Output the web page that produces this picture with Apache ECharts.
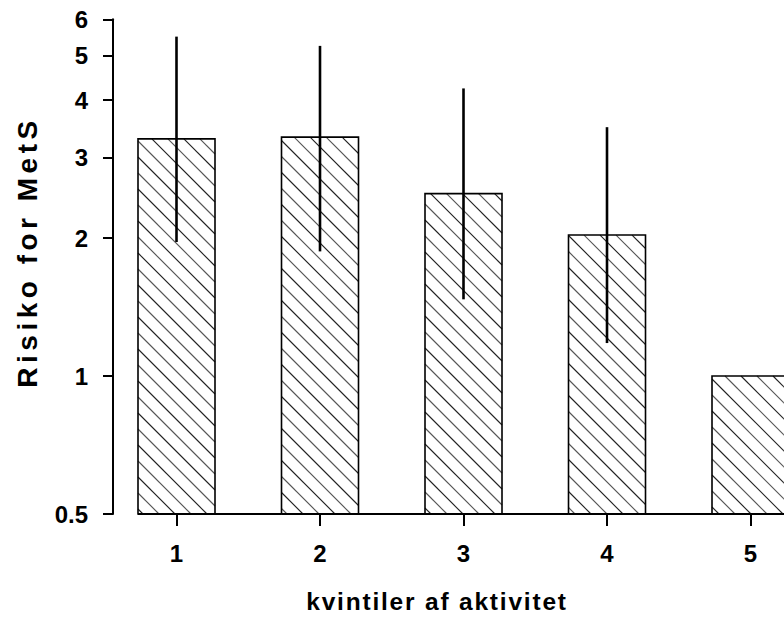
<!DOCTYPE html>
<html><head><meta charset="utf-8">
<script src="https://cdn.jsdelivr.net/npm/echarts@6/dist/echarts.min.js"></script>
<style>
html,body{margin:0;padding:0;background:#fff;}
#chart{width:784px;height:617px;}
#chart text[style*="24.5px"]{letter-spacing:1.8px;}
#chart text[style*="28px"]{letter-spacing:4.5px;}
</style></head><body><div id="chart"></div>
<script>
const categories = ['1','2','3','4','5'];
const categoryPositions = [1,2,3,4,5];
const risk = [3.29,3.32,2.50,2.03,1.00];
const ciLower = [1.96,1.87,1.47,1.18,null];
const ciUpper = [5.50,5.25,4.24,3.49,null];
const yTickValues = [0.5,1,2,3,4,5,6];
const yTickLabels = ['0.5','1','2','3','4','5','6'];
const xTitle = 'kvintiler af aktivitet';
const yTitle = 'Risiko for MetS';

const lg = v => Math.log10(v);
const yBase = yTickValues[0];
const yTop = yTickValues[yTickValues.length-1];

const barData = risk.map((v,i)=>[categoryPositions[i], lg(v)]);
const errData = [];
risk.forEach((v,i)=>{ if(ciLower[i]!=null && ciUpper[i]!=null) errData.push([categoryPositions[i], lg(ciLower[i]), lg(ciUpper[i])]); });

const chart = echarts.init(document.getElementById('chart'), null, {renderer:'svg', width:784, height:617});
const FONT = 'Arial';
chart.setOption({
  animation:false,
  backgroundColor:'#fff',
  grid:{left:113, right:0, top:19.3, bottom:103, containLabel:false, outerBoundsMode:'none'},
  xAxis:{
    type:'value', min:0.5575, max:5.2334,
    axisLine:{show:false, onZero:false}, splitLine:{show:false},
    axisTick:{show:true, customValues:categoryPositions, length:12, lineStyle:{color:'#000', width:2}},
    axisLabel:{customValues:categoryPositions, formatter:v=>categories[categoryPositions.indexOf(v)], margin:27, fontSize:24, fontWeight:'bold', color:'#000', fontFamily:FONT}
  },
  yAxis:{
    type:'value', min:lg(yBase), max:lg(yTop),
    axisLine:{show:true, onZero:false, lineStyle:{color:'#000', width:2}},
    splitLine:{show:false},
    axisTick:{show:true, customValues:yTickValues.map(lg), length:10, lineStyle:{color:'#000', width:2}},
    axisLabel:{customValues:yTickValues.map(lg), formatter:v=>{
      let best=0, bd=1e9; yTickValues.forEach((t,i)=>{const d=Math.abs(lg(t)-v); if(d<bd){bd=d;best=i;}}); return yTickLabels[best];
    }, margin:25, fontSize:24, fontWeight:'bold', color:'#000', fontFamily:FONT}
  },
  graphic:[
    {type:'text', x:437, y:601, style:{text:xTitle, font:'bold 24.5px Arial', fill:'#000', textAlign:'center', textVerticalAlign:'middle'}},
    {type:'text', x:27, y:252, rotation:Math.PI/2, style:{text:yTitle, font:'bold 28px Arial', fill:'#000', textAlign:'center', textVerticalAlign:'middle'}}
  ],
  series:[
    {
      type:'custom', data:barData, clip:false,
      renderItem:(params, api)=>{
        const xv=api.value(0), yv=api.value(1);
        const top=api.coord([xv,yv]);
        const bot=api.coord([xv,lg(yBase)]);
        const unit=api.size([1,0])[0];
        const bw=77;
        const x0=top[0]-bw/2, x1=top[0]+bw/2, y0=top[1], y1=bot[1];
        const children=[];
        const s=16;
        const kStart=Math.ceil((y0-x1)/s), kEnd=Math.floor((y1-x0)/s);
        for(let k=kStart;k<=kEnd;k++){
          const c=k*s+3;
          const xa=Math.max(x0,y0-c), xb=Math.min(x1,y1-c);
          if(xb>xa) children.push({type:'line', shape:{x1:xa,y1:xa+c,x2:xb,y2:xb+c}, style:{stroke:(k%2? '#222':'#555'), lineWidth:1.1}});
        }
        children.push({type:'rect', shape:{x:x0,y:y0,width:bw,height:y1-y0}, style:{fill:'none', stroke:'#000', lineWidth:1.6}});
        children.push({type:'line', shape:{x1:x0,y1:y1,x2:x0+unit,y2:y1}, style:{stroke:'#000', lineWidth:2}});
        return {type:'group', children};
      }
    },
    {
      type:'custom', data:errData, clip:false,
      renderItem:(params, api)=>{
        const a=api.coord([api.value(0), api.value(1)]);
        const b=api.coord([api.value(0), api.value(2)]);
        return {type:'line', shape:{x1:a[0],y1:a[1],x2:b[0],y2:b[1]}, style:{stroke:'#000', lineWidth:2.6}};
      }
    }
  ]
});
</script></body></html>
